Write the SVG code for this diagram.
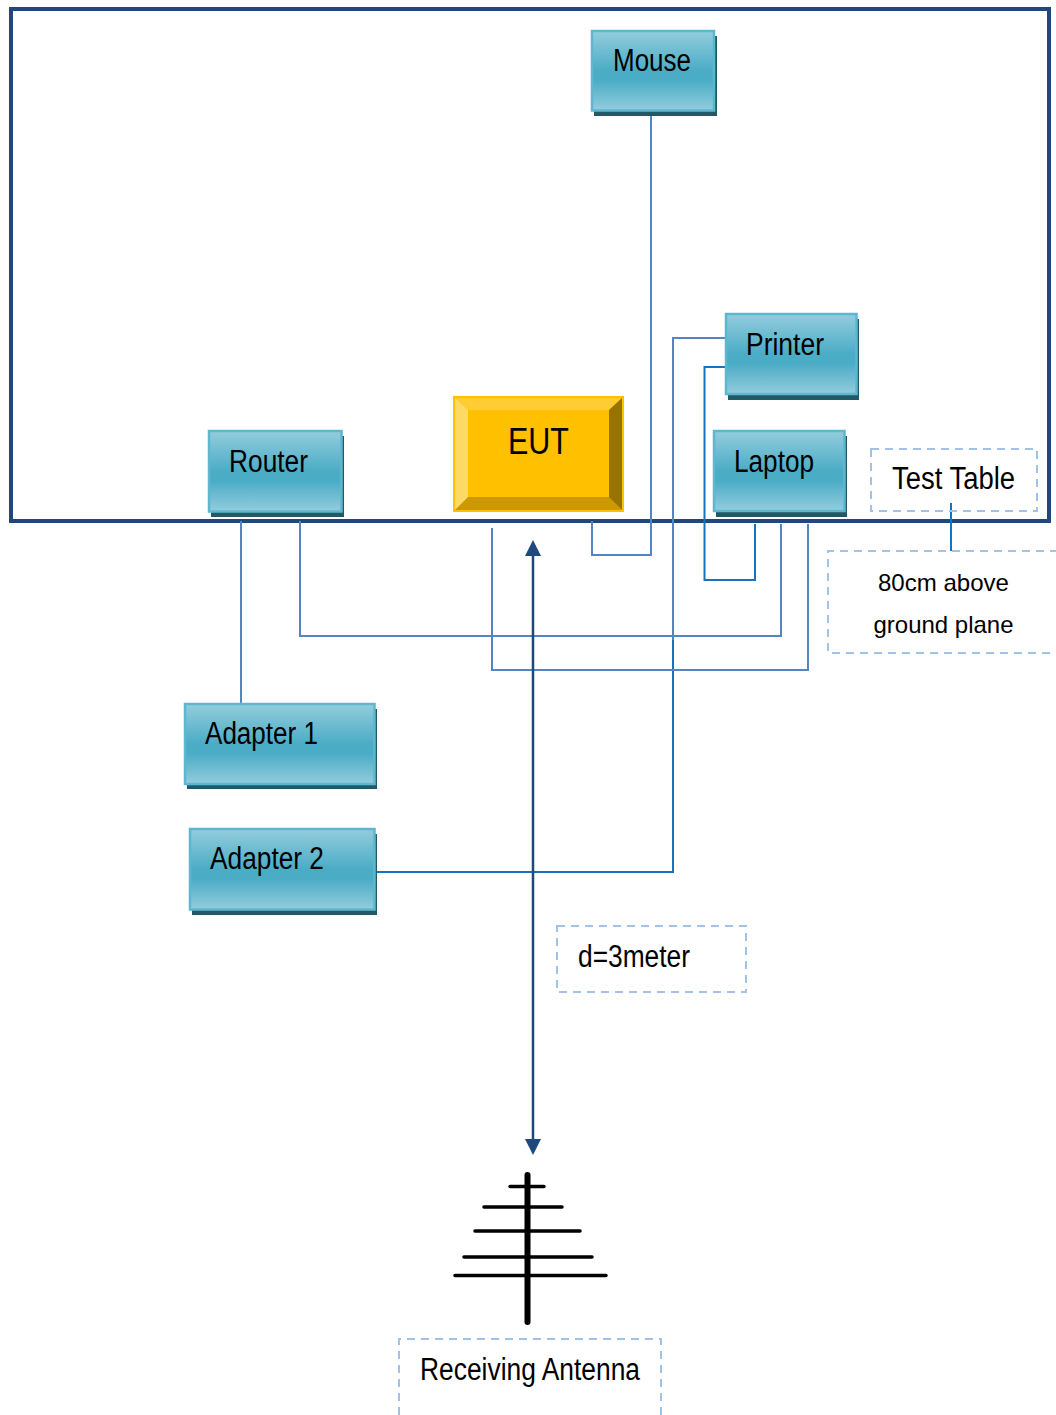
<svg xmlns="http://www.w3.org/2000/svg" width="1056" height="1415" viewBox="0 0 1056 1415">
<style>
text{font-family:"Liberation Sans",Arial,sans-serif;fill:#000}
.lb{font-size:31px}
.sm{font-size:24px}
.shadow{fill:#215968}
.box{fill:url(#teal);stroke:#5FB7CF;stroke-width:2.500}
.dash{fill:none;stroke:#A3C2E8;stroke-width:2;stroke-dasharray:8 6}
.w{fill:none;stroke:#5585C0;stroke-width:2}
.b{fill:none;stroke:#1873BE;stroke-width:2}
.ant{stroke:#000;fill:none;stroke-linecap:round}
</style>
<defs>
<linearGradient id="teal" x1="0" y1="0" x2="0" y2="1">
<stop offset="0" stop-color="#93CDDD"/><stop offset="0.5" stop-color="#4BACC6"/><stop offset="0.62" stop-color="#4BACC6"/><stop offset="1" stop-color="#93CDDD"/>
</linearGradient>
</defs>
<rect id="table" x="11" y="9" width="1038" height="512" fill="#fff" stroke="#1F497D" stroke-width="4"/>
<g id="connectors">
<path class="w" d="M651 111V555H592V521"/>
<path class="w" d="M725 338H673V640"/>
<path class="b" d="M673 640V872H376"/>
<path class="b" d="M725 367H704.500V580H755V524"/>
<path class="w" d="M300 521V636H781V524"/>
<path class="w" d="M492 528V670H808V524"/>
<path class="w" d="M241 521V703"/>
<path class="b" d="M951 503V551"/>
<path d="M533 556V1140" stroke="#1F497D" stroke-width="2.500" fill="none"/>
<path d="M533 540L525 556H541Z" fill="#1F497D"/>
<path d="M533 1155L525 1139H541Z" fill="#1F497D"/>
</g>
<g id="mouse"><rect class="shadow" x="594" y="36" width="123" height="80"/><rect class="box" x="592" y="31" width="122" height="79.500"/><text class="lb" x="613" y="71" textLength="78" lengthAdjust="spacingAndGlyphs">Mouse</text></g>
<g id="printer"><rect class="shadow" x="728" y="319" width="131" height="81"/><rect class="box" x="726" y="314" width="130.500" height="80"/><text class="lb" x="746" y="355" textLength="78" lengthAdjust="spacingAndGlyphs">Printer</text></g>
<g id="laptop"><rect class="shadow" x="716" y="436" width="131" height="81"/><rect class="box" x="714" y="431" width="130.500" height="80"/><text class="lb" x="734" y="472" textLength="80" lengthAdjust="spacingAndGlyphs">Laptop</text></g>
<g id="router"><rect class="shadow" x="211" y="436" width="133" height="81"/><rect class="box" x="209" y="431" width="132.500" height="80.500"/><text class="lb" x="229" y="472" textLength="79" lengthAdjust="spacingAndGlyphs">Router</text></g>
<g id="eut">
<rect x="454" y="397" width="169" height="114" fill="#FFC000" stroke="#FFC000" stroke-width="2"/>
<path d="M454 397H623L609 410H468Z" fill="#FFCD33"/>
<path d="M454 397L468 410V498L454 511Z" fill="#FFD966"/>
<path d="M623 397L609 410V498L623 511Z" fill="#997300"/>
<path d="M454 511L468 497H609L623 511Z" fill="#CC9A00"/>
<rect x="454" y="397" width="169" height="114" fill="none" stroke="#FFC000" stroke-width="2"/>
<text x="508" y="454" font-size="37" textLength="61" lengthAdjust="spacingAndGlyphs">EUT</text>
</g>
<g id="adapter1"><rect class="shadow" x="187" y="709" width="190" height="80"/><rect class="box" x="185" y="704" width="189.500" height="80"/><text class="lb" x="205" y="744" textLength="113" lengthAdjust="spacingAndGlyphs">Adapter 1</text></g>
<g id="adapter2"><rect class="shadow" x="192" y="834" width="185" height="81"/><rect class="box" x="190" y="829" width="184.500" height="80.500"/><text class="lb" x="210" y="869" textLength="114" lengthAdjust="spacingAndGlyphs">Adapter 2</text></g>
<g id="test-table"><rect class="dash" x="871" y="449" width="166" height="62"/><text class="lb" x="892" y="489" textLength="123" lengthAdjust="spacingAndGlyphs">Test Table</text></g>
<g id="ground-note"><path class="dash" d="M1058 551H828V653H1058"/><text class="sm" x="943.500" y="591" text-anchor="middle" textLength="131" lengthAdjust="spacingAndGlyphs">80cm above</text><text class="sm" x="943.500" y="633" text-anchor="middle" textLength="140" lengthAdjust="spacingAndGlyphs">ground plane</text></g>
<g id="distance"><rect class="dash" x="557" y="926" width="189" height="66"/><text class="lb" x="578" y="967" textLength="112" lengthAdjust="spacingAndGlyphs">d=3meter</text></g>
<g id="antenna">
<path class="ant" stroke-width="6" d="M527.500 1175V1322"/>
<path class="ant" stroke-width="3.500" d="M510 1186.500H544M484 1207H562M475 1231H580M464 1257H592M455 1275.500H606" stroke-linecap="butt"/>
</g>
<g id="receiving"><path class="dash" d="M399 1415V1339H661V1415"/><text class="lb" x="420" y="1380" textLength="220" lengthAdjust="spacingAndGlyphs">Receiving Antenna</text></g>
</svg>
